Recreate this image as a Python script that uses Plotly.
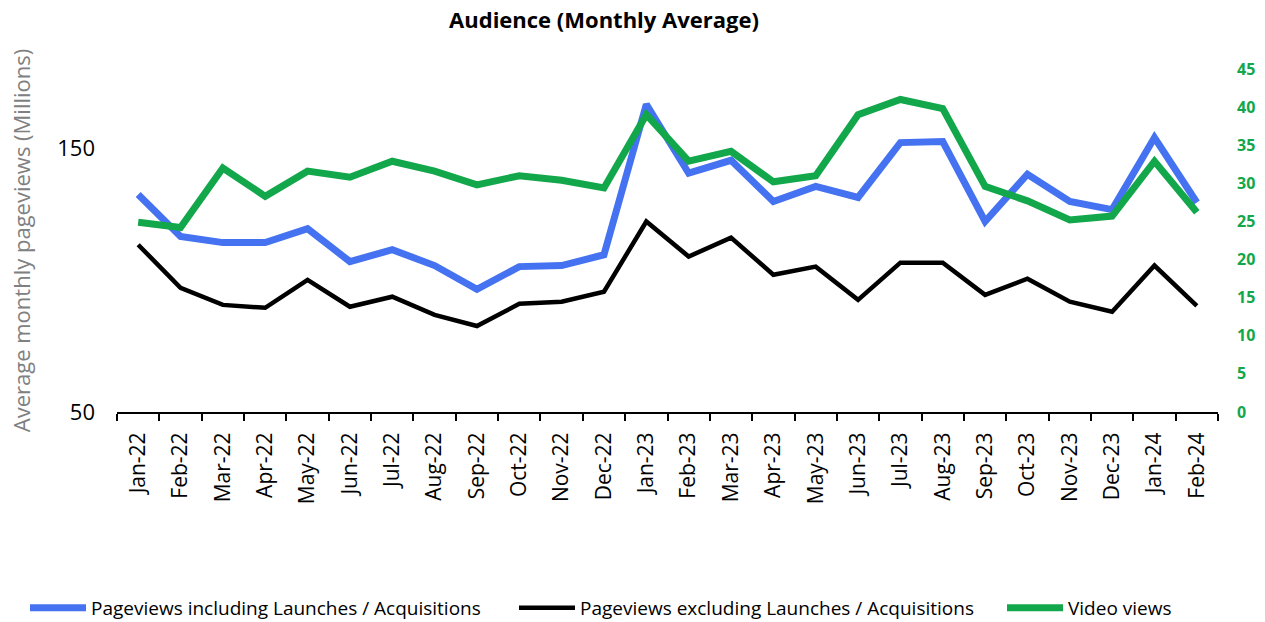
import plotly.graph_objects as go

months = ["Jan-22", "Feb-22", "Mar-22", "Apr-22", "May-22", "Jun-22", "Jul-22", "Aug-22",
          "Sep-22", "Oct-22", "Nov-22", "Dec-22", "Jan-23", "Feb-23", "Mar-23", "Apr-23",
          "May-23", "Jun-23", "Jul-23", "Aug-23", "Sep-23", "Oct-23", "Nov-23", "Dec-23",
          "Jan-24", "Feb-24"]

# Average monthly pageviews, millions
pv_incl = [132.4, 116.5, 114.2, 114.2, 119.5, 107.0, 111.5, 105.5, 96.5, 105.1, 105.5, 109.6,
           166.6, 140.5, 145.4, 129.8, 135.5, 131.3, 152.1, 152.5, 122.2, 140.1, 129.8, 126.7,
           154.0, 129.4]
pv_excl = [113.4, 97.1, 90.6, 89.5, 100.1, 89.9, 93.7, 86.8, 82.6, 91.0, 91.8, 95.6,
           122.2, 108.9, 116.1, 102.0, 105.1, 92.5, 106.6, 106.6, 94.4, 100.5, 91.8, 88.0,
           105.5, 90.2]
# Average monthly video views, millions (secondary axis)
video = [24.9, 24.2, 32.0, 28.3, 31.6, 30.8, 32.9, 31.6, 29.8, 31.0, 30.4, 29.4,
         39.0, 32.9, 34.2, 30.2, 31.0, 39.0, 41.0, 39.8, 29.6, 27.7, 25.2, 25.7,
         32.9, 26.2]

left_ticks = [50, 150]
right_ticks = [0, 5, 10, 15, 20, 25, 30, 35, 40, 45]

FONT = "Open Sans"
BLUE = "#4472F0"
GREEN = "#12A74A"

fig = go.Figure()
fig.add_trace(go.Scatter(x=months, y=pv_incl, mode="lines",
                         name="Pageviews including Launches / Acquisitions",
                         line=dict(color=BLUE, width=7), legend="legend"))
fig.add_trace(go.Scatter(x=months, y=pv_excl, mode="lines",
                         name="Pageviews excluding Launches / Acquisitions",
                         line=dict(color="#000000", width=4.5), legend="legend2"))
fig.add_trace(go.Scatter(x=months, y=video, mode="lines", name="Video views",
                         yaxis="y2", line=dict(color=GREEN, width=7), legend="legend3"))


def legend_box(x_px):
    # one legend entry anchored at a pixel position along the bottom row
    return dict(orientation="h", x=x_px / 1265, xref="container", xanchor="left",
                y=1 - 608 / 622, yref="container", yanchor="middle",
                font=dict(size=19), itemwidth=56, bgcolor="rgba(0,0,0,0)")


fig.update_layout(
    width=1265, height=622,
    margin=dict(l=117, r=47, t=69, b=210, autoexpand=False),
    paper_bgcolor="white", plot_bgcolor="white",
    font=dict(family=FONT, color="#000000"),
    title=dict(text="<b>Audience (Monthly Average)</b>", x=604 / 1265, xref="container",
               y=1 - 20 / 622, yref="container", xanchor="center", yanchor="middle",
               font=dict(size=22, color="#000000")),
    xaxis=dict(type="category", range=[-0.5, len(months) - 0.5],
               showline=True, linecolor="#000000", linewidth=2,
               ticks="outside", tickson="boundaries", ticklen=7, tickwidth=2,
               tickcolor="#000000", tickangle=-90, tickfont=dict(size=21),
               ticklabelstandoff=10,
               showgrid=False, zeroline=False),
    yaxis=dict(range=[50, 180], tickvals=left_ticks, showgrid=False, zeroline=False,
               showline=False, ticks="", tickfont=dict(size=22),
               ticklabelstandoff=21,
               title=dict(text="Average monthly pageviews (Millions)",
                          font=dict(size=22, color="#808080"), standoff=20)),
    yaxis2=dict(range=[0, 45], tickvals=right_ticks, overlaying="y", side="right",
                showgrid=False, zeroline=False, showline=False, ticks="",
                tickfont=dict(size=16, color=GREEN, weight="bold"),
                ticklabelstandoff=18),
    legend=legend_box(25),
    legend2=legend_box(514),
    legend3=legend_box(1002),
    showlegend=True,
)

fig.write_html("out.html")
